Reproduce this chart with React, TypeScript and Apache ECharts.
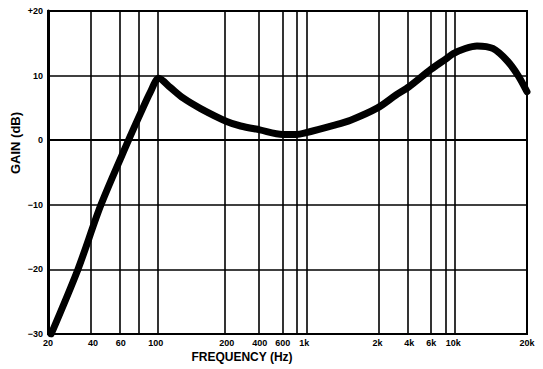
import React, { useEffect, useRef } from "react";
import * as echarts from "echarts";

// Frequencies of the printed vertical grid lines and the chart's (non-uniform) printed scale stops
const gridFreqs = [20, 40, 60, 80, 100, 200, 400, 600, 800, 1000, 2000, 4000, 6000, 8000, 10000, 20000];
const scaleStops = [0, 0.094, 0.152, 0.194, 0.225, 0.373, 0.442, 0.49, 0.519, 0.535, 0.688, 0.754, 0.8, 0.831, 0.846, 1];
const freqLabels = ["20", "40", "60", "", "100", "200", "400", "600", "", "1k", "2k", "4k", "6k", "", "10k", "20k"];

const gainTicks = [-30, -20, -10, 0, 10, 20];
const gainLabels = ["\u221230", "\u221220", "\u221210", "0", "10", "+20"];

// Response curve
const curveFreq = [21, 31.7, 44.9, 67, 80, 92, 103, 115, 131, 155, 200, 268, 400, 600, 800, 1000, 1320, 1550, 2000, 3000, 4000, 6000, 8000, 10000, 11200, 12500, 14500, 16600, 18400, 20000];
const curveGain = [-30, -20, -10, 0, 4.3, 7.4, 9.6, 8.2, 6.5, 4.9, 2.9, 2.2, 1.6, 0.9, 0.9, 1.1, 2.3, 3.1, 5.0, 7.0, 8.3, 11.0, 12.6, 13.4, 14.2, 14.6, 14.2, 12.3, 10.0, 7.5];

function toScale(f: number): number {
  for (let i = 0; i < gridFreqs.length - 1; i++) {
    const a = gridFreqs[i];
    const b = gridFreqs[i + 1];
    if (f <= b || i === gridFreqs.length - 2) {
      const t = Math.log(f / a) / Math.log(b / a);
      return scaleStops[i] + t * (scaleStops[i + 1] - scaleStops[i]);
    }
  }
  return 1;
}

export default function App() {
  const ref = useRef<HTMLDivElement>(null);
  useEffect(() => {
    if (!ref.current) return;
    const chart = echarts.init(ref.current, null, { renderer: "svg" });
    const labelFont = { fontFamily: "Liberation Sans", fontWeight: "bold" as const, fontSize: 9, color: "#000" };
    const labeled = gridFreqs.map((f, i) => ({ pos: toScale(f), text: freqLabels[i] })).filter((d) => d.text !== "");
    chart.setOption({
      animation: false,
      backgroundColor: "#fff",
      grid: { left: 48, right: 16, top: 11, bottom: 35, show: true, borderColor: "#000", borderWidth: 2, backgroundColor: "transparent" },
      xAxis: {
        type: "value",
        min: 0,
        max: 1,
        axisLine: { show: true, lineStyle: { color: "#000", width: 2 } },
        axisTick: { show: false },
        splitLine: { show: false },
        axisLabel: {
          ...labelFont,
          margin: 4,
          customValues: labeled.map((d) => d.pos),
          formatter: (v: number) => {
            let best = labeled[0];
            for (const d of labeled) if (Math.abs(d.pos - v) < Math.abs(best.pos - v)) best = d;
            return best.text;
          },
        },
      },
      yAxis: {
        type: "value",
        min: -30,
        max: 20,
        interval: 10,
        axisLine: { show: true, lineStyle: { color: "#000", width: 3 } },
        axisTick: { show: false },
        splitLine: { show: true, lineStyle: { color: "#000", width: 1.6 } },
        axisLabel: {
          ...labelFont,
          margin: 5,
          formatter: (v: number) => gainLabels[gainTicks.indexOf(v)] ?? String(v),
        },
      },
      series: [
        {
          type: "line",
          data: curveFreq.map((f, i) => [toScale(f), curveGain[i]]),
          smooth: 0.3,
          showSymbol: false,
          clip: true,
          lineStyle: { color: "#000", width: 7, cap: "round" },
          markLine: {
            silent: true,
            symbol: ["none", "none"],
            label: { show: false },
            lineStyle: { color: "#000", width: 1.6, type: "solid" },
            data: gridFreqs.slice(1, -1).map((f) => ({ xAxis: toScale(f) })),
          },
        },
      ],
      graphic: [
        {
          type: "text",
          x: 15,
          y: 143,
          rotation: Math.PI / 2,
          style: { text: "GAIN (dB)", fontFamily: "Liberation Sans", fontWeight: "bold", fontSize: 13, fill: "#000", textAlign: "center", textVerticalAlign: "middle" },
        },
        {
          type: "text",
          x: 242,
          y: 357,
          style: { text: "FREQUENCY (Hz)", fontFamily: "Liberation Sans", fontWeight: "bold", fontSize: 12, fill: "#000", textAlign: "center", textVerticalAlign: "middle" },
        },
      ],
    });
    return () => chart.dispose();
  }, []);
  return <div ref={ref} style={{ position: "fixed", left: 0, top: 0, width: 543, height: 369 }} />;
}
